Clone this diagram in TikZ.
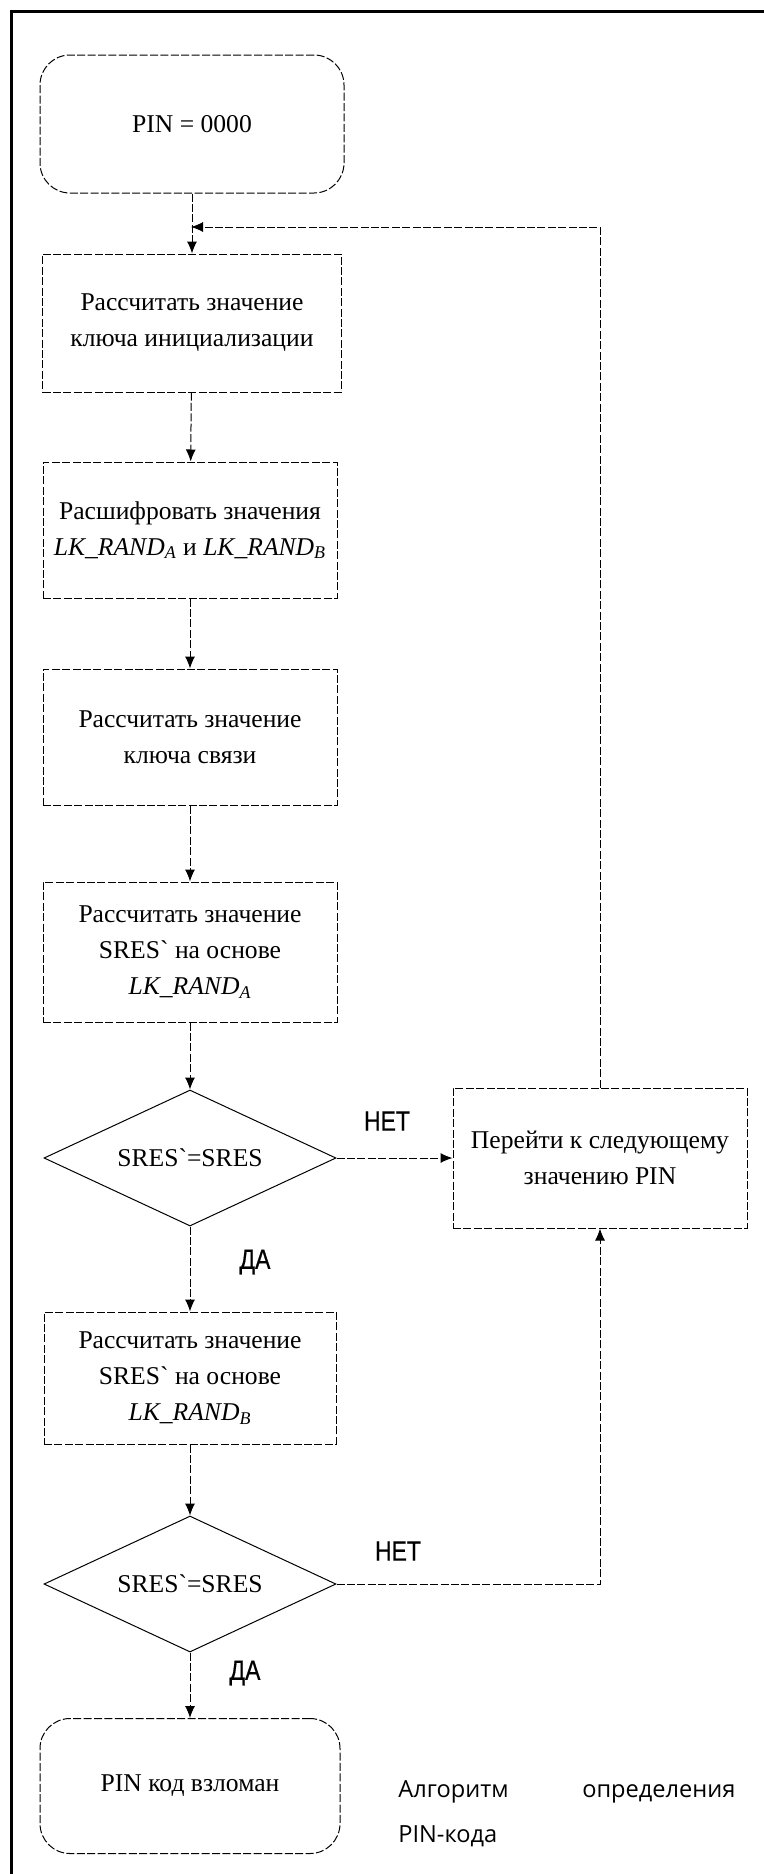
\documentclass[tikz,border=0pt]{standalone}
\usepackage{fontspec}
\setmainfont{Liberation Serif}
\newfontfamily\rawserif[Ligatures=TeXOff]{Liberation Serif}
\newfontfamily\narrowfont[FakeStretch=0.82, FakeBold=0.6]{Liberation Sans}
\newfontfamily\captionfont{Open Sans}
\usepackage{tikz}
\usetikzlibrary{positioning, shapes.geometric, arrows.meta, calc}

\newcommand{\grv}{{\rawserif\char"60}}

\tikzset{
    dashline/.style={line width=0.5pt, dash pattern=on 4pt off 1.2pt},
    procbox/.style={draw, dashline, rectangle, align=center, inner sep=2pt,
        font=\fontsize{12.8}{18}\selectfont},
    termbox/.style={procbox, rounded corners=15pt},
    decision/.style={draw, line width=0.5pt, diamond, aspect=2.15, inner sep=0pt,
        font=\fontsize{12.8}{18}\selectfont},
    answer/.style={font=\narrowfont\fontsize{14}{16}\selectfont},
    flow/.style={dashline, -{Latex[length=6pt, width=5pt]}},
}

\begin{document}
\begin{tikzpicture}[x=0.5pt, y=-0.5pt]
    \useasboundingbox (0,0) rectangle (764,1874);

    % --- frame ---
    \draw[line width=1.5pt] (11,1874) -- (11,11) -- (764,11);

    % --- main column ---
    \node[termbox, minimum width=152pt, minimum height=69pt] (pin) at (192,124) {PIN = 0000};
    \node[procbox, minimum width=149.5pt, minimum height=69pt] (initkey) at (192,323)
        {Рассчитать значение\\ключа инициализации};
    \node[procbox, minimum width=147pt, minimum height=68pt] (decrypt) at (190,530)
        {Расшифровать значения\\{\itshape LK\_RAND\textsubscript{A}} и {\itshape LK\_RAND\textsubscript{B}}};
    \node[procbox, minimum width=147pt, minimum height=68pt] (linkkey) at (190,737)
        {Рассчитать значение\\ключа связи};
    \node[procbox, minimum width=147pt, minimum height=70pt] (sresa) at (190,952)
        {Рассчитать значение\\SRES\grv{} на основе\\{\itshape LK\_RAND\textsubscript{A}}};
    \node[decision, minimum width=146pt, minimum height=68pt] (checka) at (190,1158) {SRES\grv=SRES};
    \node[procbox, minimum width=146pt, minimum height=66pt] (sresb) at (190,1378)
        {Рассчитать значение\\SRES\grv{} на основе\\{\itshape LK\_RAND\textsubscript{B}}};
    \node[decision, minimum width=146pt, minimum height=68pt] (checkb) at (190,1584) {SRES\grv=SRES};
    \node[termbox, minimum width=150pt, minimum height=67.5pt] (cracked) at (190,1786) {PIN код взломан};

    % --- side box ---
    \node[procbox, minimum width=147pt, minimum height=70pt] (nextpin) at (600,1158)
        {Перейти к следующему\\значению PIN};

    % --- labels ---
    \node[answer] (noa) at (387,1121) {НЕТ};
    \node[answer] (yesa) at (255,1262) {ДА};
    \node[answer] (nob) at (398,1551) {НЕТ};
    \node[answer] (yesb) at (245,1673) {ДА};
    \node[font=\captionfont\fontsize{11.8}{22.5}\selectfont, text width=168.5pt, align=left,
        anchor=north west, inner sep=0pt] (caption) at (398,1780)
        {Алгоритм\hfill определения\\PIN-кода};

    % --- connectors ---
    \coordinate (loopin) at (191,227);
    \draw[flow] (pin) -- (initkey);
    \draw[flow] (initkey) -- (decrypt);
    \draw[flow] (decrypt) -- (linkkey);
    \draw[flow] (linkkey) -- (sresa);
    \draw[flow] (sresa) -- (checka);
    \draw[flow] (checka) -- (sresb);
    \draw[flow] (sresb) -- (checkb);
    \draw[flow] (checkb) -- (cracked);
    \draw[flow] (checka.east) -- (checka.east -| nextpin.west);
    \draw[flow] (checkb.east) -| (nextpin.south);
    \draw[flow] (nextpin.north) |- (loopin);
\end{tikzpicture}
\end{document}
